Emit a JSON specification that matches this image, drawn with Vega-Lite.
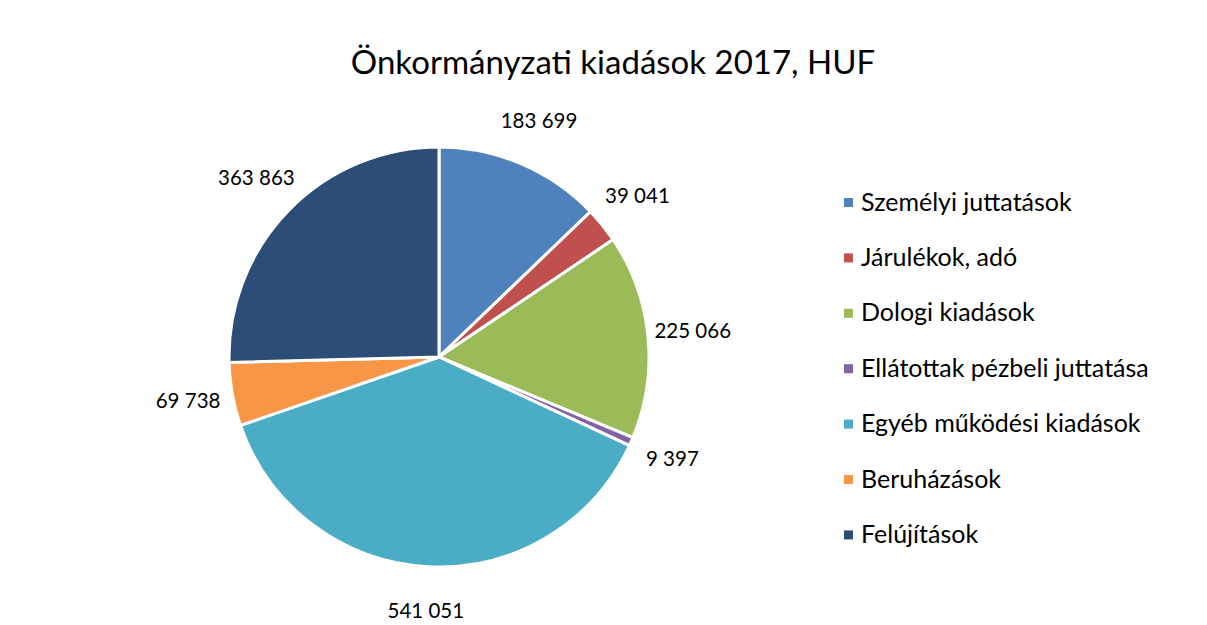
{
  "$schema": "https://vega.github.io/schema/vega-lite/v6.json",
  "autosize": "none",
  "width": 420,
  "height": 420,
  "padding": {"left": 229, "top": 147, "right": 558, "bottom": 58},
  "background": "white",
  "config": {"view": {"stroke": null}, "font": "Lato"},
  "title": {
    "text": "Önkormányzati kiadások 2017, HUF",
    "font": "Lato",
    "fontSize": 33,
    "fontWeight": "normal",
    "color": "#000000",
    "anchor": "middle",
    "frame": "group",
    "dx": 174,
    "offset": 31
  },
  "data": {
    "values": [
      {"category": "Személyi juttatások", "value": 183699, "label": "183 699", "ord": 1},
      {"category": "Járulékok, adó", "value": 39041, "label": "39 041", "ord": 2},
      {"category": "Dologi kiadások", "value": 225066, "label": "225 066", "ord": 3},
      {"category": "Ellátottak pézbeli juttatása", "value": 9397, "label": "9 397", "ord": 4},
      {"category": "Egyéb működési kiadások", "value": 541051, "label": "541 051", "ord": 5},
      {"category": "Beruházások", "value": 69738, "label": "69 738", "ord": 6},
      {"category": "Felújítások", "value": 363863, "label": "363 863", "ord": 7}
    ]
  },
  "encoding": {
    "theta": {"field": "value", "type": "quantitative", "stack": true},
    "order": {"field": "ord", "type": "quantitative"}
  },
  "layer": [
    {
      "mark": {"type": "arc", "outerRadius": 210, "stroke": "white", "strokeWidth": 3},
      "encoding": {
        "color": {
          "field": "category",
          "type": "nominal",
          "sort": null,
          "scale": {
            "domain": ["Személyi juttatások", "Járulékok, adó", "Dologi kiadások", "Ellátottak pézbeli juttatása", "Egyéb működési kiadások", "Beruházások", "Felújítások"],
            "range": ["#4F81BD", "#C0504D", "#9BBB59", "#8064A2", "#4BACC6", "#F79646", "#2C4D75"]
          },
          "legend": {
            "title": null,
            "orient": "none",
            "legendX": 607,
            "legendY": 43,
            "symbolType": "square",
            "symbolSize": 81,
            "symbolStrokeWidth": 0,
            "labelFont": "Lato",
            "labelFontSize": 25,
            "labelColor": "#000000",
            "labelOffset": 0,
            "rowPadding": 29.4,
            "labelLimit": 400
          }
        }
      }
    },
    {
      "mark": {"type": "text", "radius": 255, "font": "Lato", "fontSize": 20.5, "color": "#000000"},
      "encoding": {"text": {"field": "label", "type": "nominal"}}
    }
  ]
}
